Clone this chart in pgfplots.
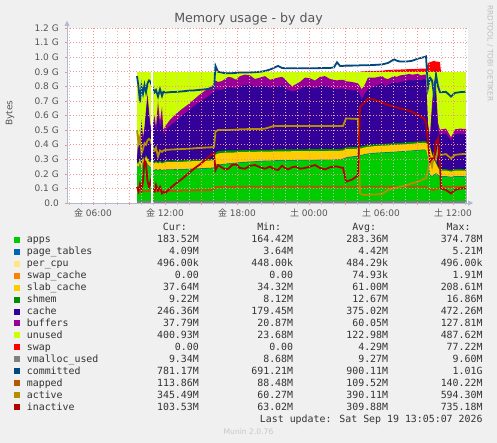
\documentclass[border=0pt]{standalone}
\usepackage{pgfplots}
\pgfplotsset{compat=1.18}
\usepackage{pgfplotstable}
\usepackage{fontspec}
\setmainfont{DejaVu Sans}
\newfontfamily\mono{DejaVu Sans Mono}
\newfontfamily\cjk{Noto Sans CJK JP}
\usetikzlibrary{arrows.meta}
\definecolor{bg}{HTML}{F0F0F0}
\definecolor{capps}{HTML}{00CC00}
\definecolor{cpt}{HTML}{0066B3}
\definecolor{cpcpu}{HTML}{FFE680}
\definecolor{cswc}{HTML}{FF8000}
\definecolor{cslab}{HTML}{FFCC00}
\definecolor{cshm}{HTML}{008F00}
\definecolor{ccache}{HTML}{330099}
\definecolor{cbuf}{HTML}{990099}
\definecolor{cunused}{HTML}{CCFF00}
\definecolor{cswap}{HTML}{FF0000}
\definecolor{cvm}{HTML}{808080}
\definecolor{ccom}{HTML}{00487D}
\definecolor{cmap}{HTML}{B35A00}
\definecolor{cact}{HTML}{B38F00}
\definecolor{cina}{HTML}{B30000}
\definecolor{mgrid}{HTML}{F09090}
\definecolor{ngrid}{HTML}{C8C8C8}
\definecolor{axcol}{HTML}{B4B8CC}
\definecolor{tickcol}{HTML}{555555}
\definecolor{legcol}{HTML}{333333}
\newcommand\legfont{\mono\fontsize{9.9}{12}\selectfont}

% cumulative levels (G): A=apps top, S=slab top, H=shmem top, C=cache top, B=buffers top, W=swap top
\pgfplotstableread{
t A S H C B W com act ina map
9.667 .25 .27 .28 .29 .30 .9 .87 .50 .11 .08
9.792 .24 .27 .28 .45 .47 .9 .80 .41 .08 .08
9.917 .27 .30 .31 .40 .42 .9 .69 .45 .13 .08
10.042 .22 .26 .27 .55 .57 .9 .80 .34 .09 .078
10.167 .28 .31 .32 .42 .45 .9 .75 .37 .15 .08
10.292 .25 .29 .30 .50 .52 .9 .81 .41 .29 .08
10.417 .29 .32 .33 .62 .64 .9 .76 .40 .27 .082
10.542 .26 .30 .31 .72 .75 .9 .82 .43 .15 .08
10.667 .25 .28 .29 .60 .63 .9 .84 .44 .11 .08
10.792 .24 .28 .29 .50 .53 .9 .83 .43 .15 .08
11.0 .23 .28 .29 .50 .55 .9 .786 .375 .09 .08
11.142 .22 .27 .28 .56 .60 .9 .76 .36 .08 .08
11.25 .23 .28 .29 .48 .52 .9 .775 .38 .124 .08
11.417 .22 .27 .28 .62 .70 .9 .73 .318 .085 .08
11.583 .23 .28 .29 .52 .56 .9 .78 .36 .11 .08
11.75 .22 .27 .28 .58 .66 .9 .734 .35 .066 .08
11.858 .225 .275 .285 .47 .50 .9 .763 .36 .075 .08
12.058 .226 .28 .29 .50 .53 .9 .757 .364 .07 .082
12.417 .226 .28 .29 .53 .57 .9 .76 .366 .10 .083
12.917 .228 .282 .292 .56 .61 .9 .762 .368 .135 .083
13.417 .228 .282 .292 .60 .645 .9 .765 .37 .165 .085
13.917 .23 .285 .295 .63 .675 .9 .77 .372 .20 .085
14.417 .232 .287 .297 .665 .71 .9 .772 .375 .235 .086
14.917 .234 .288 .298 .695 .745 .9 .776 .378 .265 .087
15.417 .236 .29 .30 .72 .775 .9 .78 .38 .30 .088
15.917 .238 .292 .302 .75 .805 .9 .787 .382 .335 .089
16.083 .24 .294 .304 .76 .81 .9 .79 .385 .34 .089
16.208 .26 .33 .345 .78 .84 .9 .94 .49 .226 .11
16.417 .26 .34 .355 .78 .83 .9 .90 .50 .26 .11
16.708 .262 .342 .357 .775 .835 .9 .895 .50 .245 .11
17.0 .265 .345 .36 .785 .85 .9 .89 .50 .23 .11
17.292 .268 .345 .36 .795 .865 .9 .89 .50 .235 .11
17.583 .27 .345 .36 .79 .86 .9 .89 .502 .26 .11
17.917 .272 .347 .36 .785 .845 .9 .892 .503 .265 .111
18.25 .275 .35 .362 .80 .87 .9 .895 .505 .24 .112
18.667 .278 .35 .362 .81 .88 .9 .895 .506 .235 .112
19.083 .28 .35 .363 .81 .875 .9 .895 .507 .255 .112
19.5 .282 .351 .364 .795 .85 .9 .897 .507 .26 .112
19.917 .285 .352 .365 .80 .86 .9 .90 .507 .245 .112
20.333 .286 .352 .365 .805 .87 .9 .905 .51 .235 .112
20.75 .287 .352 .365 .79 .845 .9 .915 .52 .25 .112
21.0 .288 .353 .366 .795 .85 .9 .924 .527 .235 .112
21.417 .29 .354 .367 .80 .86 .9 .94 .528 .226 .112
21.75 .29 .354 .367 .805 .865 .9 .926 .528 .255 .112
22.0 .29 .354 .367 .79 .85 .9 .924 .528 .24 .112
22.25 .29 .354 .367 .775 .825 .9 .924 .528 .23 .112
22.583 .29 .355 .368 .765 .80 .9 .924 .528 .245 .112
22.917 .291 .355 .368 .77 .815 .9 .924 .528 .25 .112
23.25 .292 .355 .368 .78 .83 .9 .924 .528 .235 .112
23.667 .292 .355 .368 .80 .86 .9 .924 .528 .24 .112
24.083 .292 .356 .369 .795 .855 .9 .924 .528 .25 .112
24.5 .292 .356 .369 .785 .84 .9 .924 .528 .26 .112
24.917 .293 .356 .369 .80 .865 .9 .925 .528 .24 .112
25.333 .293 .356 .369 .805 .87 .9 .925 .528 .23 .112
25.75 .294 .357 .37 .79 .85 .9 .926 .528 .245 .112
26.083 .294 .357 .37 .785 .845 .9 .93 .528 .25 .112
26.333 .295 .357 .37 .78 .84 .9 .965 .528 .25 .112
26.583 .296 .358 .371 .785 .845 .9 .94 .528 .245 .112
26.833 .30 .36 .372 .785 .845 .9 .94 .528 .24 .112
27.083 .31 .37 .382 .78 .835 .9 .942 .58 .146 .112
27.583 .315 .37 .383 .775 .83 .9 .942 .578 .16 .112
28.083 .32 .372 .385 .77 .82 .9 .943 .576 .19 .112
28.25 .325 .375 .388 .74 .80 .9 .944 .066 .66 .112
28.375 .325 .375 .388 .71 .78 .902 .944 .06 .67 .112
28.583 .33 .38 .392 .74 .80 .903 .945 .055 .684 .112
28.917 .335 .385 .397 .78 .86 .904 .945 .057 .718 .112
29.5 .34 .39 .402 .80 .86 .905 .947 .058 .707 .112
30.083 .343 .393 .405 .82 .87 .906 .95 .062 .69 .112
30.333 .344 .394 .406 .80 .855 .91 .955 .075 .68 .112
30.583 .345 .395 .407 .81 .85 .912 .96 .09 .672 .112
31.083 .348 .398 .41 .83 .87 .914 .985 .10 .66 .112
31.333 .349 .399 .411 .82 .865 .915 .975 .105 .655 .112
31.583 .35 .40 .412 .83 .875 .915 .97 .112 .649 .112
32.083 .353 .403 .415 .835 .88 .917 .97 .12 .64 .112
32.333 .355 .405 .417 .845 .885 .918 .972 .128 .632 .112
32.583 .356 .406 .418 .84 .88 .918 .975 .135 .625 .112
33.083 .36 .41 .422 .845 .885 .92 .99 .146 .604 .112
33.333 .361 .411 .423 .84 .875 .921 .995 .155 .592 .112
33.583 .362 .412 .424 .85 .88 .922 1.0 .165 .58 .112
33.75 .36 .41 .422 .845 .88 .922 1.005 .17 .55 .11
33.917 .30 .40 .41 .50 .54 .96 .79 .226 .42 .10
34.083 .19 .38 .39 .44 .47 .965 .86 .30 .283 .095
34.25 .18 .33 .34 .62 .68 .97 .84 .25 .306 .09
34.417 .19 .30 .31 .80 .85 .975 .74 .33 .30 .09
34.583 .20 .27 .28 .75 .80 .97 .88 .30 .42 .095
34.75 .19 .24 .25 .50 .55 .97 .80 .375 .444 .10
34.917 .18 .225 .235 .46 .50 .965 .76 .33 .26 .105
35.0 .18 .222 .232 .47 .505 .9 .76 .33 .10 .11
35.417 .18 .222 .232 .475 .51 .9 .762 .335 .089 .112
35.833 .175 .215 .225 .43 .45 .9 .73 .306 .066 .108
36.167 .18 .222 .232 .47 .505 .9 .755 .33 .09 .11
36.583 .18 .222 .232 .475 .51 .9 .76 .334 .10 .111
37.083 .179 .221 .23 .47 .507 .9 .763 .337 .101 .111
}\mem

\newcommand\legrow[7]{%
  \pgfmathsetmacro{\yy}{443-(239.7+11.97*#1)}%
  \fill[#2] (14,\yy-3) rectangle (20,\yy+3);
  \node[anchor=mid west,inner sep=0pt,font=\legfont,text=legcol] at (26.7,\yy) {#3};
  \node[anchor=mid east,inner sep=0pt,font=\legfont,text=legcol] at (199,\yy) {#4};
  \node[anchor=mid east,inner sep=0pt,font=\legfont,text=legcol] at (293.3,\yy) {#5};
  \node[anchor=mid east,inner sep=0pt,font=\legfont,text=legcol] at (388.3,\yy) {#6};
  \node[anchor=mid east,inner sep=0pt,font=\legfont,text=legcol] at (482.7,\yy) {#7};
}

\begin{document}
\begin{tikzpicture}[x=1pt,y=1pt]
\fill[bg] (0,0) rectangle (497,443);
\fill[white] (67,240) rectangle (468,415);
\begin{axis}[
  at={(67pt,240pt)}, anchor=south west,
  scale only axis, width=401pt, height=175pt,
  xmin=3.8333, xmax=37.25, ymin=0, ymax=1.2,
  axis on top,
  axis x line=bottom, axis y line=left,
  axis line style={draw=axcol, line width=0.7pt},
  x axis line style={-{Triangle[length=5pt,width=5pt]}, shorten >=-5pt},
  y axis line style={-{Triangle[length=5pt,width=5pt]}, shorten >=-7pt},
  xtick={6,12,18,24,30,36},
  xticklabels={{\cjk 金} 06:00,{\cjk 金} 12:00,{\cjk 金} 18:00,{\cjk 土} 00:00,{\cjk 土} 06:00,{\cjk 土} 12:00},
  extra x ticks={9,15,21,27,33},
  extra x tick labels={},
  extra x tick style={grid=major},
  minor xtick={4,5,...,37},
  ytick={0,0.1,0.2,0.3,0.4,0.5,0.6,0.7,0.8,0.9,1.0,1.1,1.2},
  yticklabels={0.0,0.1 G,0.2 G,0.3 G,0.4 G,0.5 G,0.6 G,0.7 G,0.8 G,0.9 G,1.0 G,1.1 G,1.2 G},
  grid=both,
  major grid style={draw=mgrid, line width=0.6pt, dash pattern=on 1pt off 2pt},
  minor grid style={draw=ngrid, line width=0.6pt, dash pattern=on 1pt off 2pt},
  tick align=outside,
  major tick length=2pt, minor tick length=2pt,
  major tick style={draw=mgrid},
  minor tick style={draw=ngrid},
  every tick label/.append style={font=\fontsize{9}{10}\selectfont, text=tickcol},
  xticklabel style={anchor=north, inner sep=0pt, yshift=-4pt},
  yticklabel style={anchor=east, inner sep=0pt, xshift=-6pt},
  clip=true,
]
\addplot[fill=cswap, draw=none, restrict x to domain=28.2:35.05] table[x=t,y=W]{\mem} \closedcycle;
\addplot[fill=cunused, draw=none] coordinates {(9.667,0.9) (37.083,0.9)} \closedcycle;
\addplot[fill=cbuf, draw=none] table[x=t,y=B]{\mem} \closedcycle;
\addplot[fill=ccache, draw=none] table[x=t,y=C]{\mem} \closedcycle;
\addplot[fill=cshm, draw=none] table[x=t,y=H]{\mem} \closedcycle;
\addplot[fill=cslab, draw=none] table[x=t,y=S]{\mem} \closedcycle;
\addplot[fill=cpt, draw=none] table[x=t,y expr=\thisrow{A}+0.004]{\mem} \closedcycle;
\addplot[fill=capps, draw=none] table[x=t,y=A]{\mem} \closedcycle;
\addplot[cvm, line width=1.8pt] coordinates {(9.667,0.0091) (37.083,0.0091)};
\addplot[ccom, line width=1.8pt] table[x=t,y=com]{\mem};
\addplot[cmap, line width=1.8pt] table[x=t,y=map]{\mem};
\addplot[cact, line width=1.8pt] table[x=t,y=act]{\mem};
\addplot[cina, line width=1.8pt] table[x=t,y=ina]{\mem};
\addplot[fill=white, draw=none] coordinates {(10.808,0.93) (10.975,0.93)} \closedcycle;
\end{axis}
\node[font=\fontsize{12.6}{14}\selectfont, text=tickcol] at (248.5,424) {Memory usage - by day};
\node[font=\fontsize{9}{10}\selectfont, text=tickcol, rotate=90] at (10,330) {Bytes};
\node[font=\fontsize{7.5}{9}\selectfont, text=black!25, rotate=-90] at (490,389.5) {RRDTOOL / TOBI OETIKER};
% legend header
\pgfmathsetmacro{\hy}{443-227.7}
\node[anchor=mid east,inner sep=0pt,font=\legfont,text=legcol] at (187,\hy) {Cur:};
\node[anchor=mid east,inner sep=0pt,font=\legfont,text=legcol] at (281.3,\hy) {Min:};
\node[anchor=mid east,inner sep=0pt,font=\legfont,text=legcol] at (376.3,\hy) {Avg:};
\node[anchor=mid east,inner sep=0pt,font=\legfont,text=legcol] at (470.7,\hy) {Max:};
\legrow{0}{capps}{apps}{183.52M}{164.42M}{283.36M}{374.78M}
\legrow{1}{cpt}{page\_tables}{4.09M}{3.64M}{4.42M}{5.21M}
\legrow{2}{cpcpu}{per\_cpu}{496.00k}{448.00k}{484.29k}{496.00k}
\legrow{3}{cswc}{swap\_cache}{0.00}{0.00}{74.93k}{1.91M}
\legrow{4}{cslab}{slab\_cache}{37.64M}{34.32M}{61.00M}{208.61M}
\legrow{5}{cshm}{shmem}{9.22M}{8.12M}{12.67M}{16.86M}
\legrow{6}{ccache}{cache}{246.36M}{179.45M}{375.02M}{472.26M}
\legrow{7}{cbuf}{buffers}{37.79M}{20.87M}{60.05M}{127.81M}
\legrow{8}{cunused}{unused}{400.93M}{23.68M}{122.98M}{487.62M}
\legrow{9}{cswap}{swap}{0.00}{0.00}{4.29M}{77.22M}
\legrow{10}{cvm}{vmalloc\_used}{9.34M}{8.68M}{9.27M}{9.60M}
\legrow{11}{ccom}{committed}{781.17M}{691.21M}{900.11M}{1.01G}
\legrow{12}{cmap}{mapped}{113.86M}{88.48M}{109.52M}{140.22M}
\legrow{13}{cact}{active}{345.49M}{60.27M}{390.11M}{594.30M}
\legrow{14}{cina}{inactive}{103.53M}{63.02M}{309.88M}{735.18M}
\node[anchor=mid east,inner sep=0pt,font=\legfont,text=legcol] at (482.7,443-419.7) {Last update: Sat Sep 19 13:05:07 2026};
\node[font=\fontsize{7.6}{9}\selectfont, text=black!22] at (248.5,443-431.7) {Munin 2.0.76};
\end{tikzpicture}
\end{document}
